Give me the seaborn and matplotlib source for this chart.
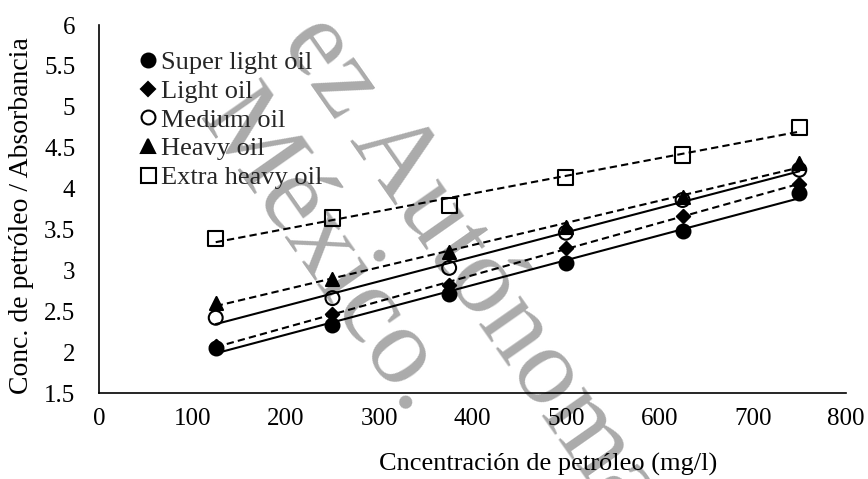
import numpy as np
import pandas as pd
import matplotlib
matplotlib.use("Agg")
import matplotlib.pyplot as plt
from matplotlib.lines import Line2D
import seaborn as sns

# Oil concentration (mg/l)
concentration = [125, 250, 375, 500, 625, 750]

# Concentration / absorbance ratio for each oil type
super_light = [2.05, 2.33, 2.71, 3.09, 3.48, 3.94]
light = [2.08, 2.46, 2.82, 3.27, 3.67, 4.06]
medium = [2.42, 2.66, 3.03, 3.46, 3.86, 4.23]
heavy = [2.60, 2.90, 3.22, 3.53, 3.90, 4.31]
extra_heavy = [3.39, 3.64, 3.79, 4.14, 4.41, 4.75]

series_names = ["Super light oil", "Light oil", "Medium oil", "Heavy oil", "Extra heavy oil"]
x_ticks = [0, 100, 200, 300, 400, 500, 600, 700, 800]
y_ticks = [1.5, 2, 2.5, 3, 3.5, 4, 4.5, 5, 5.5, 6]

df = pd.DataFrame({
    "conc": concentration * 5,
    "ratio": super_light + light + medium + heavy + extra_heavy,
    "oil": [n for n in series_names for _ in concentration],
})

styles = {
    "Super light oil": dict(marker="o", fill=True, s=100, ls="-"),
    "Light oil": dict(marker="D", fill=True, s=46, ls=(0, (3.5, 2))),
    "Medium oil": dict(marker="o", fill=False, s=100, ls="-"),
    "Heavy oil": dict(marker="^", fill=True, s=88, ls=(0, (3.5, 2))),
    "Extra heavy oil": dict(marker="s", fill=False, s=118, ls=(0, (3.5, 2))),
}

sns.set_theme(style="white")
plt.rcParams["font.family"] = ["Liberation Serif", "DejaVu Serif"]

W, H = 868, 479
fig = plt.figure(figsize=(W / 100, H / 100), dpi=100)
ax = fig.add_axes([99 / W, 1 - 393 / H, (846 - 99) / W, (393 - 25) / H])
ax.set_facecolor("none")

for name in series_names:
    st = styles[name]
    sub = df[df["oil"] == name]
    sns.regplot(
        data=sub, x="conc", y="ratio", ax=ax, ci=None, truncate=True,
        marker=st["marker"], color="black",
        scatter_kws=dict(s=st["s"], alpha=1, linewidths=1.5,
                         facecolors="black" if st["fill"] else "none",
                         edgecolors="black"),
        line_kws=dict(lw=1.5, ls=st["ls"], color="black"),
    )

ax.set_xlim(0, 800)
ax.set_ylim(1.5, 6)
ax.set_xticks(x_ticks)
ax.set_yticks(y_ticks)
ax.set_xticklabels([str(v) for v in x_ticks])
ax.set_yticklabels([f"{v:g}" for v in y_ticks])
ax.tick_params(axis="both", length=0, labelsize=18, colors="black")
ax.tick_params(axis="x", pad=11)
ax.tick_params(axis="y", pad=17)
ax.set_xlabel("")
ax.set_ylabel("")
for side in ["top", "right"]:
    ax.spines[side].set_visible(False)
for side in ["left", "bottom"]:
    ax.spines[side].set_color("black")
    ax.spines[side].set_linewidth(1.2)

# legend with markers only
handles = []
for name in series_names:
    st = styles[name]
    ms = {"o": 10, "D": 6.8, "^": 9.4, "s": 10.8}[st["marker"]]
    handles.append(Line2D([], [], ls="none", marker=st["marker"], ms=ms,
                          mfc="black" if st["fill"] else "none",
                          mec="black", mew=1.5))
ax.legend(handles, series_names, loc="upper left",
          bbox_to_anchor=(140 / W, 1 - 51 / H), bbox_transform=fig.transFigure,
          frameon=False, fontsize=19, handlelength=0.6, handletextpad=0.2,
          labelspacing=0.195, borderpad=0, borderaxespad=0)

fig.text(548 / W, 1 - 471 / H, "Cncentración de petróleo (mg/l)",
         ha="center", va="baseline", fontsize=19, color="black")
fig.text(22 / W, 1 - 216 / H, "Conc. de petróleo / Absorbancia",
         ha="center", va="center", rotation=90, fontsize=20, color="black")

# institutional watermark behind the chart
wm = dict(fontsize=80, color="#ababab", rotation=-55, rotation_mode="anchor",
          ha="left", va="baseline", zorder=-5)
fig.text(280 / W, 1 - 41.5 / H, "ez Autónoma", **wm)
fig.text(197 / W, 1 - 118 / H, "México.", **wm)

fig.savefig("out.png", dpi=100)
